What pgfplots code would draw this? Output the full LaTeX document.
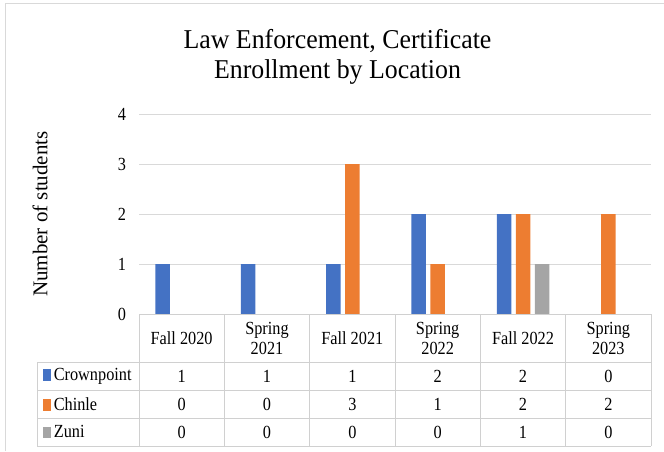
\documentclass[border=0pt]{standalone}
\usepackage{fontspec}
\setmainfont{Liberation Serif}
\newfontfamily\cellfam[FakeStretch=0.88]{Liberation Serif}
\newfontfamily\titlefam[FakeStretch=0.95]{Liberation Serif}
\usepackage{pgfplots}
\usepackage{pgfplotstable}
\pgfplotsset{compat=1.18}
\definecolor{crown}{HTML}{4472C4}
\definecolor{chinle}{HTML}{ED7D31}
\definecolor{zuni}{HTML}{A5A5A5}
\definecolor{gridgray}{HTML}{D9D9D9}
\definecolor{tablegray}{HTML}{D0D0D0}

% enrollment per term (0 = Fall 2020 ... 5 = Spring 2023)
\pgfplotstableread{
idx crown chinle zuni
0   1     0      0
1   1     0      0
2   1     3      0
3   2     1      0
4   2     2      1
5   0     2      0
}\enroll

\newcommand{\cellfont}{\cellfam\fontsize{18.5}{20.5}\selectfont}

\begin{document}
\begin{tikzpicture}
\useasboundingbox (0,0) rectangle (664pt,451pt);
\draw[gridgray, line width=1pt] (5.5pt,0) -- (5.5pt,447.5pt) -- (664pt,447.5pt);
\begin{axis}[
    at={(139pt,137pt)}, anchor=south west,
    scale only axis, width=512pt, height=200pt,
    xmin=-0.5, xmax=5.5, ymin=0, ymax=4,
    clip=false,
    axis line style={draw=none},
    ytick={0,...,4},
    ymajorgrids, grid style={gridgray, line width=0.8pt},
    major tick length=0pt,
    xtick={0,...,5},
    xticklabels={Fall 2020,{Spring\\2021},Fall 2021,{Spring\\2022},Fall 2022,{Spring\\2023}},
    x tick label style={font=\cellfont, align=center, anchor=center, yshift=-24.5pt},
    y tick label style={font=\cellfont, xshift=-9.5pt},
    /pgf/number format/assume math mode=true,
    ylabel={Number of students},
    every axis y label/.style={at={(axis description cs:0,0.5)}, xshift=-99pt,
        rotate=90, anchor=center, font=\fontsize{21}{24}\selectfont},
    title={Law Enforcement, Certificate\\Enrollment by Location},
    title style={font=\titlefam\fontsize{27.2}{30.3}\selectfont, align=center,
        at={(axis description cs:0.3877,1.255)}, anchor=center},
    every node near coord/.append style={font=\cellfont, anchor=center},
]
\addplot[/tikz/ybar, /pgf/bar width=14.5pt, /pgf/bar shift=-19pt, fill=crown, draw=none] table[x=idx, y=crown] {\enroll};
\addplot[/tikz/ybar, /pgf/bar width=14.5pt, /pgf/bar shift=0pt, fill=chinle, draw=none] table[x=idx, y=chinle] {\enroll};
\addplot[/tikz/ybar, /pgf/bar width=14.5pt, /pgf/bar shift=19pt, fill=zuni, draw=none] table[x=idx, y=zuni] {\enroll};

% data table below the axis
\addplot[draw=none, nodes near coords, point meta=explicit symbolic] table[x=idx, y expr=-1.24, meta=crown] {\enroll};
\addplot[draw=none, nodes near coords, point meta=explicit symbolic] table[x=idx, y expr=-1.80, meta=chinle] {\enroll};
\addplot[draw=none, nodes near coords, point meta=explicit symbolic] table[x=idx, y expr=-2.36, meta=zuni] {\enroll};

\draw[tablegray, line width=1pt]
    (axis cs:-0.5,0) -- (axis cs:5.5,0)
    (axis cs:-1.695,-0.97) -- (axis cs:5.5,-0.97)
    (axis cs:-1.695,-1.52) -- (axis cs:5.5,-1.52)
    (axis cs:-1.695,-2.08) -- (axis cs:5.5,-2.08)
    (axis cs:-1.695,-2.64) -- (axis cs:5.5,-2.64)
    (axis cs:-1.695,-0.97) -- (axis cs:-1.695,-2.64)
    (axis cs:-0.5,0) -- (axis cs:-0.5,-2.64)
    (axis cs:0.5,0) -- (axis cs:0.5,-2.64)
    (axis cs:1.5,0) -- (axis cs:1.5,-2.64)
    (axis cs:2.5,0) -- (axis cs:2.5,-2.64)
    (axis cs:3.5,0) -- (axis cs:3.5,-2.64)
    (axis cs:4.5,0) -- (axis cs:4.5,-2.64)
    (axis cs:5.5,0) -- (axis cs:5.5,-2.64);

\node[anchor=west, font=\cellfont, inner sep=0pt, xshift=5.5pt] at (axis cs:-1.695,-1.24)
    {\textcolor{crown}{\rule[-0.5pt]{8pt}{11.5pt}}\,Crownpoint};
\node[anchor=west, font=\cellfont, inner sep=0pt, xshift=5.5pt] at (axis cs:-1.695,-1.80)
    {\textcolor{chinle}{\rule[-0.5pt]{8pt}{11.5pt}}\,Chinle};
\node[anchor=west, font=\cellfont, inner sep=0pt, xshift=5.5pt] at (axis cs:-1.695,-2.36)
    {\textcolor{zuni}{\rule[-0.5pt]{8pt}{11.5pt}}\,Zuni};
\end{axis}
\end{tikzpicture}
\end{document}
